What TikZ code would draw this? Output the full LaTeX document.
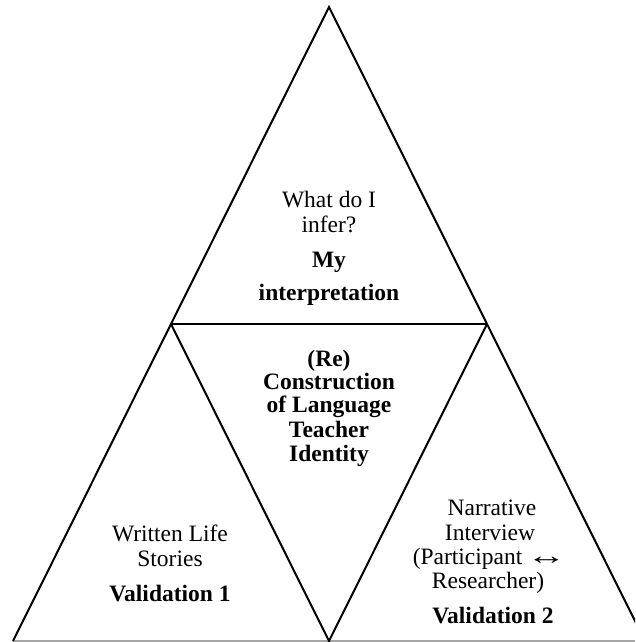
\documentclass[tikz,border=0pt]{standalone}
\usepackage{graphicx}
\usepackage{fontspec}
\setmainfont{Liberation Serif}
\begin{document}
\begin{tikzpicture}[x=1pt,y=-1pt,
  edge/.style={line width=2pt,black},
  baseedge/.style={line width=1.5pt,gray!70},
  txt/.style={anchor=base,inner sep=0pt,font=\fontsize{23.5}{25}\selectfont},
  btxt/.style={txt,font=\fontsize{23.5}{25}\selectfont\bfseries}]
\useasboundingbox (0,0) rectangle (635,642);
\clip (0,0) rectangle (635,642);
\coordinate (A) at (329,7);
\coordinate (L) at (13,641);
\coordinate (R) at (645,641);
\coordinate (ML) at (171,324);
\coordinate (MR) at (487,324);
\coordinate (MB) at (329,641);
\draw[baseedge] (L) -- (R);
\draw[edge,line join=miter] (L) -- (A) -- (R);
\draw[edge] (ML) -- (MR);
\draw[edge,line join=miter] (ML) -- (MB) -- (MR);
% top triangle
\node[txt] (t1) at (329,207) {What do I};
\node[txt] (t2) at (329,232) {infer?};
\node[btxt] (t3) at (329,267) {My};
\node[btxt] (t4) at (329,300) {interpretation};
% middle triangle
\node[btxt] (m1) at (329,366) {(Re)};
\node[btxt] (m2) at (329,389) {Construction};
\node[btxt] (m3) at (329,412) {of Language};
\node[btxt] (m4) at (329,437) {Teacher};
\node[btxt] (m5) at (329,461) {Identity};
% bottom left
\node[txt] (l1) at (170,541) {Written Life};
\node[txt] (l2) at (170,566) {Stories};
\node[btxt] (l3) at (170,601) {Validation 1};
% bottom right
\node[txt] (r1) at (492,515) {Narrative};
\node[txt] (r2) at (490,540) {Interview};
\node[txt] (r3) at (489.5,564) {(Participant\,\scalebox{1.7}[1.1]{↔}};
\node[txt] (r4) at (488,588) {Researcher)};
\node[btxt] (r5) at (493,623) {Validation 2};
\end{tikzpicture}
\end{document}
